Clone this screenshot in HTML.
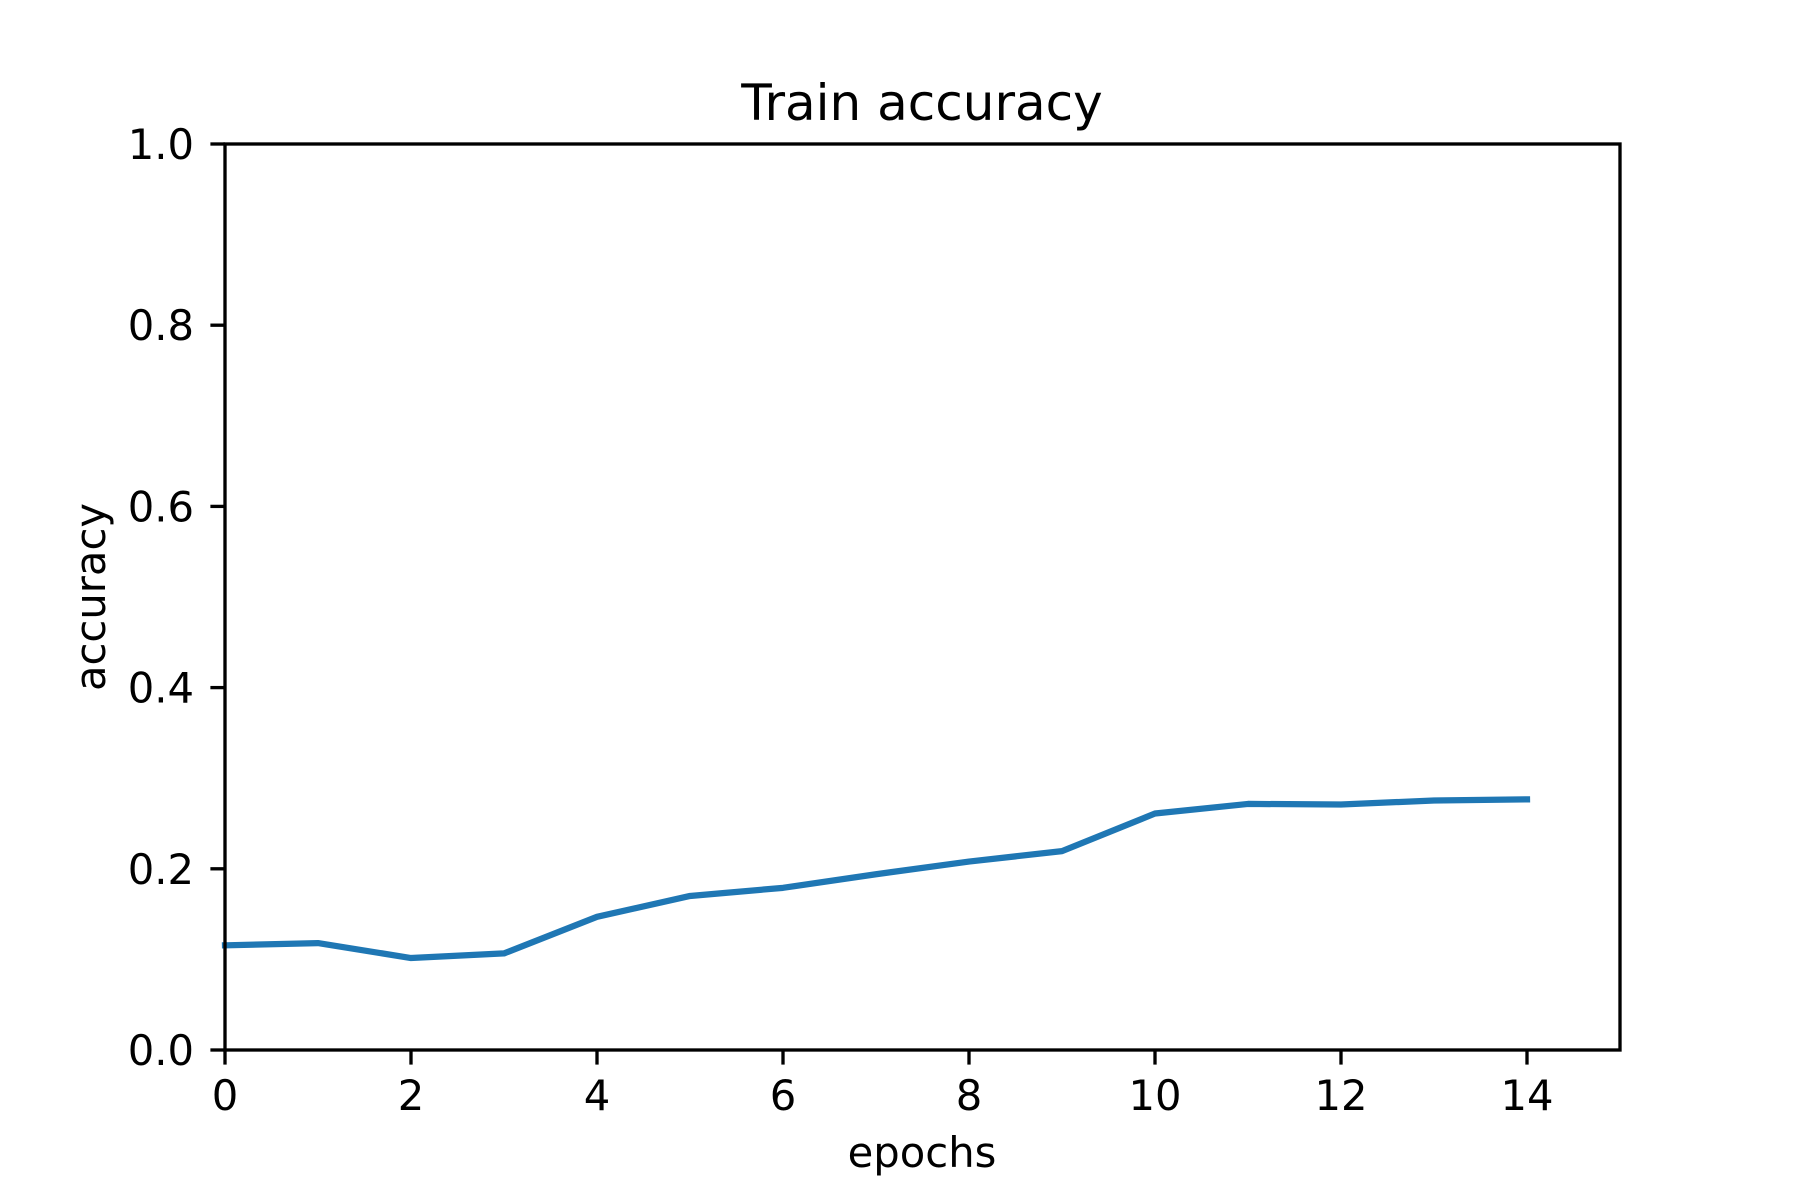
<!DOCTYPE html>
<html><head><meta charset="utf-8"><style>
html,body{margin:0;padding:0;background:#fff;}
svg{display:block;}
text{font-family:"DejaVu Sans","Liberation Sans",sans-serif;fill:#000;}
</style></head><body>
<svg id="chart" width="1800" height="1200" viewBox="0 0 1800 1200">
<rect x="0" y="0" width="1800" height="1200" fill="#fff"/>
<text x="922" y="120" font-size="50" text-anchor="middle">Train accuracy</text>
<g id="xticks"></g>
<g id="yticks"></g>
<polyline id="line" fill="none" stroke="#1f77b4" stroke-width="6.25" stroke-linejoin="round" stroke-linecap="square"/>
<rect x="225" y="144" width="1395" height="906" fill="none" stroke="#000" stroke-width="3.33"/>
<text x="922" y="1167" font-size="41.7" text-anchor="middle">epochs</text>
<text transform="translate(105,597) rotate(-90)" font-size="41.7" text-anchor="middle">accuracy</text>
</svg>
<script>
const epochs = [0,1,2,3,4,5,6,7,8,9,10,11,12,13,14];
const accuracy = [0.1155,0.118,0.1015,0.1066,0.147,0.170,0.179,0.194,0.208,0.2195,0.261,0.2716,0.271,0.2754,0.2766];
const xTickValues = [0,2,4,6,8,10,12,14];
const xTickLabels = ["0","2","4","6","8","10","12","14"];
const yTickValues = [0,0.2,0.4,0.6,0.8,1.0];
const yTickLabels = ["0.0","0.2","0.4","0.6","0.8","1.0"];

const L=225,R=1620,T=144,B=1050,XMIN=0,XMAX=15,YMIN=0,YMAX=1;
const sx=v=>L+(v-XMIN)/(XMAX-XMIN)*(R-L);
const sy=v=>B-(v-YMIN)/(YMAX-YMIN)*(B-T);
const NS="http://www.w3.org/2000/svg";
const xg=document.getElementById('xticks');
xTickValues.forEach((v,i)=>{
  const x=sx(v);
  const ln=document.createElementNS(NS,'line');
  ln.setAttribute('x1',x);ln.setAttribute('x2',x);ln.setAttribute('y1',B);ln.setAttribute('y2',B+14.6);
  ln.setAttribute('stroke','#000');ln.setAttribute('stroke-width','3.33');
  
  
  xg.appendChild(ln);
  const t=document.createElementNS(NS,'text');
  t.setAttribute('x',x);t.setAttribute('y',1110);t.setAttribute('font-size','41.7');t.setAttribute('text-anchor','middle');
  t.textContent=xTickLabels[i];
  
  
  xg.appendChild(t);
});
const yg=document.getElementById('yticks');
yTickValues.forEach((v,i)=>{
  const y=sy(v);
  const ln=document.createElementNS(NS,'line');
  ln.setAttribute('x1',L-14.6);ln.setAttribute('x2',L);ln.setAttribute('y1',y);ln.setAttribute('y2',y);
  ln.setAttribute('stroke','#000');ln.setAttribute('stroke-width','3.33');
  
  
  yg.appendChild(ln);
  const t=document.createElementNS(NS,'text');
  t.setAttribute('x',194);t.setAttribute('y',y+15);t.setAttribute('font-size','41.7');t.setAttribute('text-anchor','end');
  t.textContent=yTickLabels[i];
  
  
  yg.appendChild(t);
});
document.getElementById('line').setAttribute('points',epochs.map((e,i)=>sx(e)+','+sy(accuracy[i])).join(' '));
</script>
</body></html>
